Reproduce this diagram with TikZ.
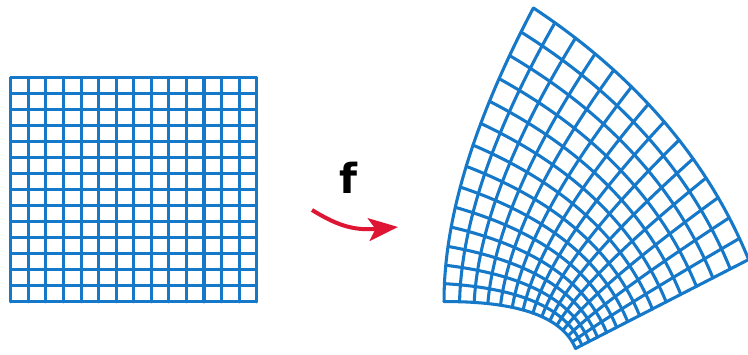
\documentclass[tikz,border=0pt]{standalone}
\usepackage{fontspec}
\newfontfamily\labelfont{DejaVu Sans}
\usetikzlibrary{arrows.meta}
\definecolor{gridblue}{RGB}{21,120,200}
\definecolor{arrowred}{RGB}{222,22,52}
\tikzset{
  gridline/.style={draw=gridblue, line width=2.3pt, line cap=round, line join=round},
  maparrow/.style={draw=arrowred, line width=3pt, -{Stealth[length=22pt, width=17pt, inset=5pt]}},
}
\begin{document}
\begin{tikzpicture}[x=0.75pt, y=-0.75pt]
\useasboundingbox (0,0) rectangle (748,354);
\fill[white] (0,0) rectangle (748,354);
\clip (0,0) rectangle (748,354);
% left rectangular grid
\foreach \i in {0,...,14} {
  \draw[gridline] ({10.8+\i*17.564},77.7) -- ({10.8+\i*17.564},301.8);
  \draw[gridline] (10.8,{77.7+\i*16.007}) -- (256.7,{77.7+\i*16.007});
}
% right grid: image of [s,q]x[0,1] under z^2 (then scaled)
\def\ss{0.455}
\def\qq{1.44}
\foreach \i in {0,...,14} {
  \pgfmathsetmacro\xx{\ss+\i*(\qq-\ss)/14}
  \draw[gridline] plot[domain=0:1, samples=40, smooth, variable=\t]
    ({556.29 + 92.759*(\xx*\xx-\t*\t) - 85.071*\xx*\t},
     {358.315 - 47.64*(\xx*\xx-\t*\t) - 207.78*\xx*\t});
  \pgfmathsetmacro\yy{\i/14}
  \draw[gridline] plot[domain=\ss:\qq, samples=40, smooth, variable=\t]
    ({556.29 + 92.759*(\t*\t-\yy*\yy) - 85.071*\t*\yy},
     {358.315 - 47.64*(\t*\t-\yy*\yy) - 207.78*\t*\yy});
}
% map arrow and label
\coordinate (arrowtail) at (312,210);
\coordinate (arrowtip) at (398,227);
\draw[maparrow] (arrowtail) .. controls (335,224) and (352,231) .. (arrowtip);
\node[anchor=base, inner sep=0pt, font=\labelfont\bfseries\fontsize{31}{31}\selectfont] (flabel) at (348.5,193) {f};
\end{tikzpicture}
\end{document}
